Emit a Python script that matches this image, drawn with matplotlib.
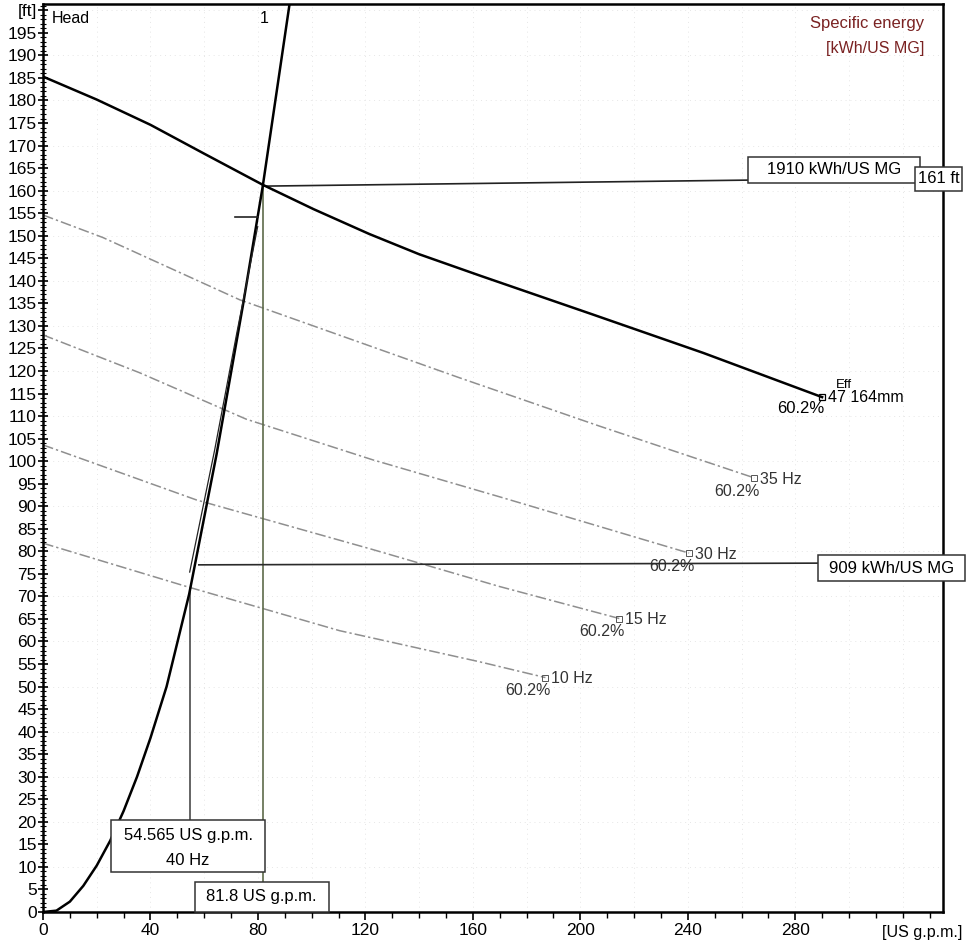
import matplotlib
matplotlib.use('agg')
import matplotlib.pyplot as plt
from matplotlib.patches import Rectangle
from matplotlib.ticker import MultipleLocator

plt.rcParams['font.family'] = ['Liberation Sans', 'DejaVu Sans']

# pump curve at full speed, flow [US g.p.m.] / head [ft]
pump_q = [0, 20, 40, 60, 81.8, 100.7, 121.4, 140, 162.9, 204.3, 245.8, 290]
pump_h = [185.3, 180.2, 174.6, 168.2, 161.3, 155.9, 150.4, 145.9, 141.1, 132.6, 124.0, 114.2]

# system curve
sys_q = [0, 5, 10, 15, 20, 25, 30, 35, 40, 46, 54.4, 64.6, 74.4, 81.8, 91.8]
sys_h = [0, 0.3, 2.3, 5.8, 10.3, 15.8, 22.4, 30, 38.6, 50, 70.5, 101.5, 134.5, 161, 201.5]

# reduced speed curves
speed_labels = ['35 Hz', '30 Hz', '15 Hz', '10 Hz']
speed_q = [
    [0, 22.3, 73.2, 155, 207, 264.7],
    [0, 36, 75.7, 122.7, 169.9, 240.5],
    [0, 57.1, 122.7, 169.9, 214.5],
    [0, 53.4, 110.4, 162.5, 187],
]
speed_h = [
    [154.6, 149.6, 135.8, 118.5, 107.8, 96.3],
    [128, 119.6, 109.3, 100.3, 92.1, 79.6],
    [103.6, 91.4, 80.4, 72.2, 65.1],
    [81.8, 72.2, 62.4, 55.5, 52.0],
]
eff_label = '60.2%'

# thin duty line next to the system curve
duty_q = [54.6, 63.9, 72.0, 79.9]
duty_h = [75.4, 102.5, 128.0, 152.0]

# duty points
q_full, h_full = 81.8, 161
q_low, h_low = 54.565, 71.5
e_full, e_low = 1910, 909
h_e_low = 77.4
freq_low = '40 Hz'

fig = plt.figure(figsize=(9.66, 9.40), dpi=100)
ax = fig.add_axes([43 / 966, 28 / 940, 900 / 966, 908 / 940])
ax.set_xlim(0, 335)
ax.set_ylim(0, 201.4)


def label_box(x0, x1, y0, y1, z=6):
    # white framed box behind a value label
    ax.add_patch(Rectangle((x0, y0), x1 - x0, y1 - y0, fc='white', ec='#333333',
                           lw=1.1, zorder=z, clip_on=False))


# faint dotted grid
for gx in range(20, 335, 20):
    ax.axvline(gx, color='#e6e6e6', lw=0.7, ls=(0, (1, 4)), zorder=0)
for gy in range(10, 201, 10):
    ax.axhline(gy, color='#e6e6e6', lw=0.7, ls=(0, (1, 4)), zorder=0)

# speed curves
for q, h, lab in zip(speed_q, speed_h, speed_labels):
    ax.plot(q, h, color='#8f8f8f', lw=1.1, ls=(0, (7, 2, 1.5, 2)), zorder=2)
    ax.plot(q[-1], h[-1], marker='s', ms=4, mfc='none', mec='#555555', mew=0.7, zorder=3)
    ax.annotate(lab, (q[-1], h[-1]), xytext=(4, -1), textcoords='offset points',
                ha='left', va='center', fontsize=11.5, color='#333333')
    ax.annotate(eff_label, (q[-1], h[-1]), xytext=(4, -9.5), textcoords='offset points',
                ha='right', va='center', fontsize=11.5, color='#333333')

# full speed pump curve
ax.plot(pump_q, pump_h, color='black', lw=1.8, zorder=4)
ax.plot(pump_q[-1], pump_h[-1], marker='s', ms=5, mfc='none', mec='black', mew=0.9, zorder=5)
ax.annotate('Eff', (pump_q[-1], pump_h[-1]), xytext=(10, 9), textcoords='offset points',
            ha='left', va='center', fontsize=9.5)
ax.annotate('47 164mm', (pump_q[-1], pump_h[-1]), xytext=(4, -0.5), textcoords='offset points',
            ha='left', va='center', fontsize=11.5)
ax.annotate(eff_label, (pump_q[-1], pump_h[-1]), xytext=(1.5, -8), textcoords='offset points',
            ha='right', va='center', fontsize=12)

# system curve and duty line
ax.plot(sys_q, sys_h, color='black', lw=1.8, zorder=4)
ax.plot(duty_q, duty_h, color='#222222', lw=0.9, zorder=4)
ax.plot([71.4, 79.9], [154.2, 154.2], color='#222222', lw=1.2, zorder=4)

# duty point guide lines
ax.plot([q_full, q_full], [0, h_full], color='#5d6b4a', lw=1.2, zorder=3)
ax.plot([q_low, q_low], [15, h_low], color='#3a3a3a', lw=1.1, zorder=3)
ax.plot([q_full, 324.6], [h_full, 162.8], color='#222222', lw=1.2, zorder=3)
ax.plot([58, 300], [77, h_e_low], color='#2a2a2a', lw=1.2, zorder=3)

# value labels
label_box(262.5, 326.5, 161.7, 167.5)
ax.text(294.5, 164.6, f'{e_full} kWh/US MG', ha='center', va='center', fontsize=12, zorder=7)
label_box(324.6, 342.1, 160.0, 165.3, z=8)
ax.text(333.4, 162.6, f'{h_full} ft', ha='center', va='center', fontsize=12, zorder=9,
        clip_on=False)
label_box(288.5, 343.3, 73.4, 79.2)
ax.text(315.9, 76.3, f'{e_low} kWh/US MG', ha='center', va='center', fontsize=12, zorder=7,
        clip_on=False)
label_box(25.3, 82.7, 8.9, 20.4)
ax.text(54.0, 17.0, f'{q_low} US g.p.m.', ha='center', va='center', fontsize=12, zorder=7)
ax.text(54.0, 11.5, freq_low, ha='center', va='center', fontsize=12, zorder=7)
label_box(56.4, 106.5, 0, 6.7)
ax.text(81.2, 3.4, f'{q_full} US g.p.m.', ha='center', va='center', fontsize=12, zorder=7)

# headings
ax.text(3.2, 198.2, 'Head', ha='left', va='center', fontsize=11.5)
ax.text(82.3, 198.2, '1', ha='center', va='center', fontsize=11.5)
ax.text(0.9795, 0.978, 'Specific energy', transform=ax.transAxes, ha='right', va='center',
        fontsize=12, color='#7a2222')
ax.text(0.9795, 0.951, '[kWh/US MG]', transform=ax.transAxes, ha='right', va='center',
        fontsize=11.5, color='#7a2222')
ax.text(1.022, -0.014, '[US g.p.m.]', transform=ax.transAxes, ha='right', va='top',
        fontsize=11.5, clip_on=False)

# axes styling
for side in ['left', 'bottom', 'top', 'right']:
    ax.spines[side].set_linewidth(1.8)
ax.xaxis.set_minor_locator(MultipleLocator(10))
ax.yaxis.set_minor_locator(MultipleLocator(1))
ax.set_yticks(range(0, 201, 5))
ax.set_yticklabels([str(v) for v in range(0, 200, 5)] + ['[ft]'])
ax.set_xticks(range(0, 320, 40))
ax.tick_params(axis='y', which='major', direction='inout', length=7, width=1.2, labelsize=12.5, pad=1)
ax.tick_params(axis='y', which='minor', direction='inout', length=4, width=0.8)
ax.tick_params(axis='x', which='major', direction='out', length=6, width=1.2, labelsize=12.5, pad=2)
ax.tick_params(axis='x', which='minor', direction='out', length=4, width=1.0)

fig.savefig('out.png', dpi=100)
